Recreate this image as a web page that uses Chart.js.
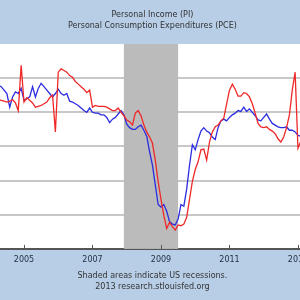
<!DOCTYPE html>
<html>
<head>
<meta charset="utf-8">
<script src="https://cdn.jsdelivr.net/npm/chart.js@4/dist/chart.umd.min.js"></script>
<style>
  html, body { margin: 0; padding: 0; width: 300px; height: 300px; overflow: hidden; background: #b7cee6; }
  #wrap { position: absolute; left: -20px; top: 0; width: 340px; height: 300px; }
</style>
</head>
<body>
<div id="wrap"><canvas id="chart1" width="340" height="300"></canvas></div>
<script>
// monthly % change from year ago, Jan 2004 .. Feb 2013
const startYear = 2004;
const piValues = [
  4.75, 4.75, 4.7, 4.75, 4.7, 4.65, 4.6, 4.65, 4.75, 4.55, 4.1, 6.75,
  4.6, 4.85, 4.7, 4.55, 4.3, 4.35, 4.4, 4.5, 4.6, 4.85, 5.0, 2.85,
  6.35, 6.55, 6.45, 6.35, 6.15, 6.05, 5.8, 5.65, 5.5, 5.35, 5.15, 5.3,
  4.3, 4.4, 4.35, 4.35, 4.35, 4.3, 4.2, 4.1, 4.1, 4.25, 4.0, 3.8,
  3.55, 3.45, 3.25, 3.95, 4.1, 3.8, 3.25, 2.85, 2.55, 2.2, 1.2, -0.05,
  -1.1, -2.05, -2.8, -2.45, -2.7, -2.9, -2.6, -2.65, -2.55, -2.15, -1.1, -0.05,
  0.65, 1.1, 1.8, 1.85, 1.2, 2.25, 2.85, 3.15, 3.25, 3.5, 3.65, 4.5,
  5.3, 5.65, 5.35, 4.95, 4.95, 5.15, 5.1, 4.9, 4.5, 3.95, 3.35, 3.15,
  3.1, 3.15, 3.0, 2.9, 2.75, 2.45, 2.25, 2.55, 3.1, 3.85, 5.3, 6.35,
  1.9, 2.3
];
const pceValues = [
  5.6, 5.6, 5.5, 5.6, 5.5, 5.3, 5.1, 4.3, 4.9, 5.2, 5.1, 5.4,
  4.7, 4.8, 4.9, 5.5, 4.9, 5.4, 5.7, 5.5, 5.3, 5.1, 4.9, 5.1,
  5.35, 5.1, 5.0, 5.1, 4.65, 4.6, 4.5, 4.4, 4.25, 4.1, 4.0, 4.25,
  4.0, 3.95, 3.95, 3.85, 3.85, 3.7, 3.4, 3.6, 3.7, 3.9, 4.1, 3.85,
  3.3, 3.1, 3.0, 3.0, 3.15, 3.25, 2.95, 2.6, 1.7, 0.9, -0.25, -1.4,
  -1.55, -1.4, -1.8, -2.4, -2.55, -2.6, -2.25, -1.4, -1.5, -0.5, 0.9, 2.1,
  1.8, 2.4, 2.9, 3.1, 2.9, 2.8, 2.55, 2.4, 3.1, 3.5, 3.6, 3.5,
  3.7, 3.85, 3.95, 4.1, 4.05, 4.3, 4.05, 4.2, 4.0, 3.8, 3.55, 3.5,
  3.7, 3.9, 3.6, 3.35, 3.25, 3.15, 3.1, 3.1, 3.15, 2.95, 2.95, 2.85,
  2.65, 2.6
];
const tickYears = [2005, 2007, 2009, 2011, 2013];
const recessionStart = [2007.917];
const recessionEnd = [2009.5];

const toPoints = vals => vals.map((v, i) => ({ x: startYear + i / 12, y: v }));

const bandColor = '#b7cee6';
const textColor = '#333333';

const backdrop = {
  id: 'backdrop',
  beforeDraw(chart) {
    const c = chart.ctx;
    const a = chart.chartArea;
    c.save();
    c.fillStyle = bandColor;
    c.fillRect(0, 0, chart.width, chart.height);
    c.fillStyle = '#ffffff';
    c.fillRect(a.left, a.top, a.right - a.left, a.bottom - a.top);
    c.restore();
  },
  beforeDatasetsDraw(chart) {
    const c = chart.ctx;
    const a = chart.chartArea;
    const xs = chart.scales.x;
    c.save();
    c.fillStyle = '#bbbbbb';
    for (let i = 0; i < recessionStart.length; i++) {
      const x0 = xs.getPixelForValue(recessionStart[i]);
      const x1 = xs.getPixelForValue(recessionEnd[i]);
      c.fillRect(x0, a.top, x1 - x0, a.bottom - a.top);
    }
    // small tick marks pointing up from the axis
    c.strokeStyle = '#555555';
    c.lineWidth = 1;
    xs.ticks.forEach(t => {
      const x = Math.round(xs.getPixelForValue(t.value)) + 0.5;
      c.beginPath();
      c.moveTo(x, a.bottom - 4);
      c.lineTo(x, a.bottom);
      c.stroke();
    });
    c.restore();
  }
};

const ctx = document.getElementById('chart1').getContext('2d');
const myChart = new Chart(ctx, {
  type: 'line',
  data: {
    datasets: [{
      label: 'Personal Income (PI)',
      data: toPoints(piValues),
      borderColor: '#f02828',
      borderWidth: 1.3,
      pointRadius: 0,
      tension: 0
    }, {
      label: 'Personal Consumption Expenditures (PCE)',
      data: toPoints(pceValues),
      borderColor: '#2b2be0',
      borderWidth: 1.3,
      pointRadius: 0,
      tension: 0
    }]
  },
  options: {
    responsive: false,
    animation: false,
    devicePixelRatio: 1,
    layout: { padding: { left: 9.75, right: 4.9, top: 0, bottom: 0 } },
    plugins: {
      legend: { display: false },
      tooltip: { enabled: false },
      title: {
        display: true,
        text: ['Personal Income (PI)', 'Personal Consumption Expenditures (PCE)'],
        color: textColor,
        font: { family: 'DejaVu Sans', size: 8, weight: 'normal', lineHeight: 1.375 },
        padding: { top: 9, bottom: 13 }
      },
      subtitle: {
        display: true,
        position: 'bottom',
        text: ['Shaded areas indicate US recessions.', '2013 research.stlouisfed.org'],
        color: textColor,
        font: { family: 'DejaVu Sans', size: 8, weight: 'normal', lineHeight: 1.375 },
        padding: { top: 0, bottom: 7.5 }
      }
    },
    scales: {
      x: {
        type: 'linear',
        min: 2004,
        max: 2013.5,
        afterBuildTicks: scale => { scale.ticks = tickYears.map(v => ({ value: v })); },
        grid: { display: false, drawTicks: false, tickLength: 0 },
        border: { display: true, color: '#555555', width: 2 },
        ticks: {
          color: '#223344',
          padding: 6,
          maxRotation: 0,
          font: { family: 'DejaVu Sans', size: 8, lineHeight: 1.2 },
          callback: v => String(v)
        }
      },
      y: {
        min: -4,
        max: 8,
        ticks: { display: false, stepSize: 2 },
        border: { display: false },
        grid: {
          drawTicks: false,
          lineWidth: 2,
          color: c => (c.tick && c.tick.value === 8) ? 'rgba(0,0,0,0)' : '#c8c8c8'
        }
      }
    }
  },
  plugins: [backdrop]
});
</script>
</body>
</html>
